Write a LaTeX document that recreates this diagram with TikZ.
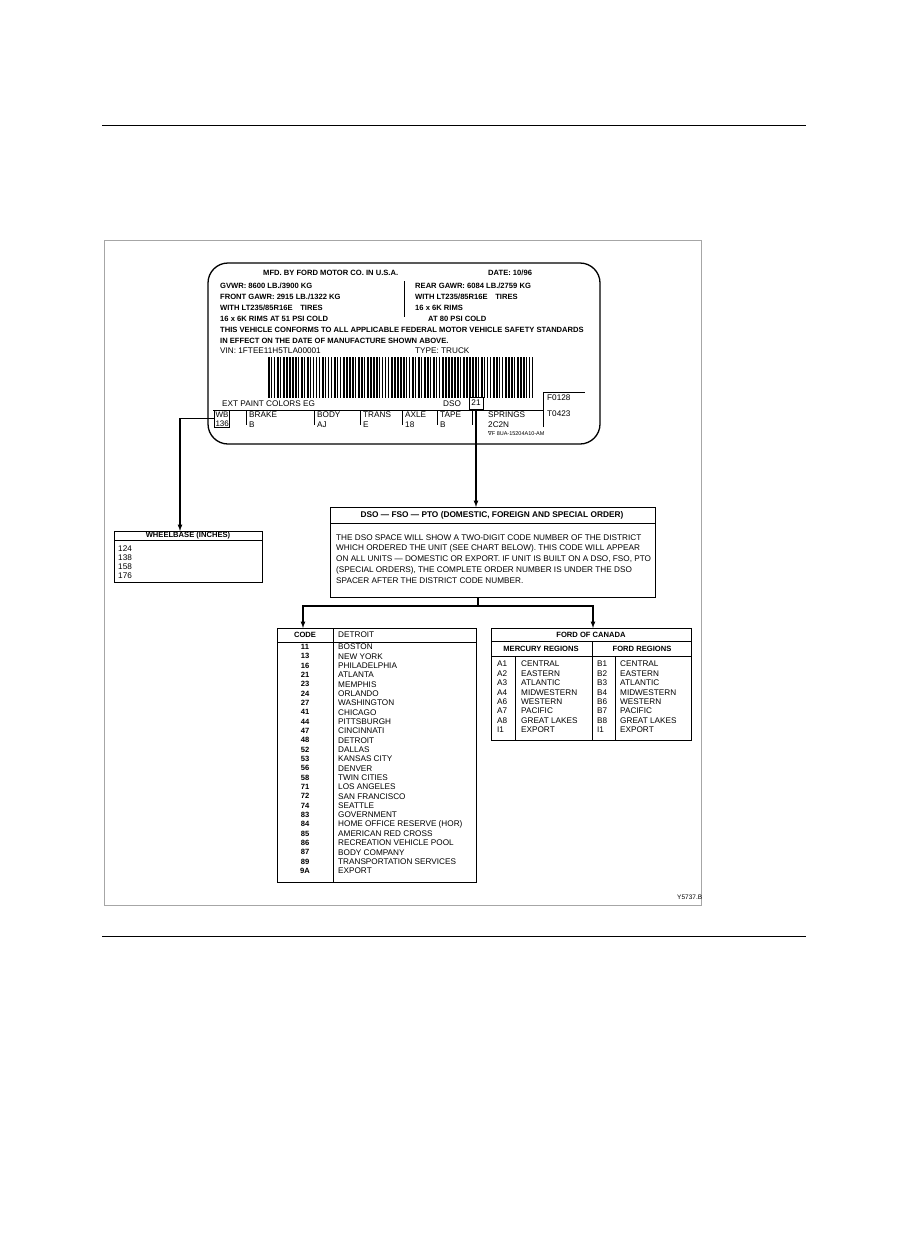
\documentclass[tikz,border=0pt]{standalone}
\usepackage{fontspec}
\setmainfont{Liberation Sans}
\newfontfamily\symfont{DejaVu Sans}
\begin{document}
\begin{tikzpicture}[x=1pt,y=-1pt,
  t/.style={anchor=west,inner sep=0pt,font=\fontsize{8.2}{8.5}\selectfont},
  tb/.style={t,font=\fontsize{7.6}{8}\selectfont\bfseries},
  tc/.style={inner sep=0pt,font=\fontsize{7.6}{8}\selectfont\bfseries},
  box/.style={draw,line width=1pt},
  conn/.style={line width=1.2pt,-latex}]
\useasboundingbox (0,0) rectangle (909,1242);
\draw[line width=1pt] (102,125) -- (806,125);
\draw[line width=1pt] (102,936) -- (806,936);
\draw[gray!70,line width=0.6pt] (104,240) rectangle (701,905);
% label
\draw[line width=1.3pt,rounded corners=20pt] (208,263) rectangle (600,444);
\node[tb] at (263,273) {MFD. BY FORD MOTOR CO. IN U.S.A.};
\node[tb] at (488,273) {DATE: 10/96};
\node[tb] at (220,286) {GVWR: 8600 LB./3900 KG};
\node[tb] at (220,297) {FRONT GAWR: 2915 LB./1322 KG};
\node[tb] at (220,308) {WITH LT235/85R16E\quad TIRES};
\node[tb] at (220,319) {16 x 6K RIMS AT 51 PSI COLD};
\node[tb] at (220,330) {THIS VEHICLE CONFORMS TO ALL APPLICABLE FEDERAL MOTOR VEHICLE SAFETY STANDARDS};
\node[tb] at (220,341) {IN EFFECT ON THE DATE OF MANUFACTURE SHOWN ABOVE.};
\node[t] at (220,351) {VIN: 1FTEE11H5TLA00001};
\draw[line width=0.8pt] (404,281) -- (404,317);
\node[tb] at (415,286) {REAR GAWR: 6084 LB./2759 KG};
\node[tb] at (415,297) {WITH LT235/85R16E\quad TIRES};
\node[tb] at (415,308) {16 x 6K RIMS};
\node[tb] at (428,319) {AT 80 PSI COLD};
\node[t] at (415,351) {TYPE: TRUCK};
% barcode
\pgfmathsetseed{7}
\foreach \i in {0,...,88} {
  \pgfmathsetmacro{\w}{0.8+1.6*rnd}
  \fill (268+3*\i,357) rectangle ++(\w,41);
}
\node[t] at (222,404) {EXT PAINT COLORS EG};
\node[t] at (443,404) {DSO};
\node[box,inner sep=1pt,minimum width=14pt,minimum height=12pt,font=\fontsize{8.2}{8.5}\selectfont] (dso21) at (476,403) {21};
\draw[line width=0.8pt] (213,410) -- (543,410);
\draw[line width=0.8pt] (543,427) -- (543,392) -- (585,392);
\node[t] at (547,398) {F0128};
\node[t] at (547,414) {T0423};
\node[box,align=left,inner sep=1pt,font=\fontsize{8}{9}\selectfont,anchor=north west] (wb) at (214,410) {WB\\136};
\foreach \x/\a/\b in {246/BRAKE/B,314/BODY/AJ,360/TRANS/E,402/AXLE/18,437/TAPE/B} {
  \draw[line width=0.8pt] (\x,410) -- (\x,425);
  \node[t] at (\x+3,415) {\a};
  \node[t] at (\x+3,425) {\b};
}
\draw[line width=0.6pt] (472,410) -- (472,425);
\node[t] at (488,415) {SPRINGS};
\node[t] at (488,425) {2C2N};
\node[t,font=\fontsize{5.5}{6}\selectfont] at (488,434) {{\symfont ∇}F 8UA-15204A10-AM};
% wheelbase
\draw[box] (114,531) rectangle (262,582);
\draw[line width=0.8pt] (114,540) -- (262,540);
\node[tc] (wbh) at (188,535.5) {WHEELBASE (INCHES)};
\coordinate (wbtop) at (180,531);
\foreach \v [count=\k] in {124,138,158,176} \node[t] at (118,540+9*\k) {\v};
\draw[conn] (wb.west) -| (wbtop);
% DSO box
\draw[box] (330,507) rectangle (655,597);
\draw[line width=0.8pt] (330,523) -- (655,523);
\node[tc,font=\fontsize{8.3}{8.5}\selectfont\bfseries] at (492,515) {DSO --- FSO --- PTO (DOMESTIC, FOREIGN AND SPECIAL ORDER)};
\coordinate (dsotop) at (476,507);
\coordinate (dsobot) at (478,597);
\foreach \s [count=\k] in {THE DSO SPACE WILL SHOW A TWO-DIGIT CODE NUMBER OF THE DISTRICT,
 WHICH ORDERED THE UNIT (SEE CHART BELOW). THIS CODE WILL APPEAR,
 ON ALL UNITS --- DOMESTIC OR EXPORT. IF UNIT IS BUILT ON A DSO{,} FSO{,} PTO,
 (SPECIAL ORDERS){,} THE COMPLETE ORDER NUMBER IS UNDER THE DSO,
 SPACER AFTER THE DISTRICT CODE NUMBER.}
 \node[t] at (336,527+10.8*\k) {\s};
\draw[conn] (dso21.south) -- (dsotop);
% split
\coordinate (sp) at (478,606);
\coordinate (codetop) at (303,628);
\coordinate (cantop) at (593,628);
\draw[line width=1.2pt] (dsobot) -- (sp);
\draw[conn] (sp) -| (codetop);
\draw[conn] (sp) -| (cantop);
% code table
\draw[box] (277,628) rectangle (476,882);
\draw[line width=0.8pt] (277,642) -- (476,642);
\draw[line width=0.6pt] (333,628) -- (333,882);
\node[tc] at (305,635) {CODE};
\node[t] at (338,635) {DETROIT};
\foreach \c/\n [count=\k] in {11/BOSTON,13/NEW YORK,16/PHILADELPHIA,21/ATLANTA,23/MEMPHIS,24/ORLANDO,27/WASHINGTON,41/CHICAGO,44/PITTSBURGH,47/CINCINNATI,48/DETROIT,52/DALLAS,53/KANSAS CITY,56/DENVER,58/TWIN CITIES,71/LOS ANGELES,72/SAN FRANCISCO,74/SEATTLE,83/GOVERNMENT,84/HOME OFFICE RESERVE (HOR),85/AMERICAN RED CROSS,86/RECREATION VEHICLE POOL,87/BODY COMPANY,89/TRANSPORTATION SERVICES,9A/EXPORT} {
  \node[tc] at (305,637.7+9.33*\k) {\c};
  \node[t] at (338,637.7+9.33*\k) {\n};
}
% canada
\draw[box] (491,628) rectangle (691,740);
\draw[line width=0.8pt] (491,641) -- (691,641);
\draw[line width=0.8pt] (491,656) -- (691,656);
\draw[line width=0.8pt] (592,641) -- (592,740);
\draw[line width=0.6pt] (515,656) -- (515,740) (615,656) -- (615,740);
\node[tc] at (591,634.5) {FORD OF CANADA};
\node[tc] at (541,648.5) {MERCURY REGIONS};
\node[tc] at (642,648.5) {FORD REGIONS};
\foreach \a/\b/\n [count=\k] in {A1/B1/CENTRAL,A2/B2/EASTERN,A3/B3/ATLANTIC,A4/B4/MIDWESTERN,A6/B6/WESTERN,A7/B7/PACIFIC,A8/B8/GREAT LAKES,I1/I1/EXPORT} {
  \node[t] at (497,654.6+9.4*\k) {\a};
  \node[t] at (521,654.6+9.4*\k) {\n};
  \node[t] at (597,654.6+9.4*\k) {\b};
  \node[t] at (620,654.6+9.4*\k) {\n};
}
\node[t,font=\fontsize{6.5}{7}\selectfont] at (677,897) {Y5737.B};
\end{tikzpicture}
\end{document}
